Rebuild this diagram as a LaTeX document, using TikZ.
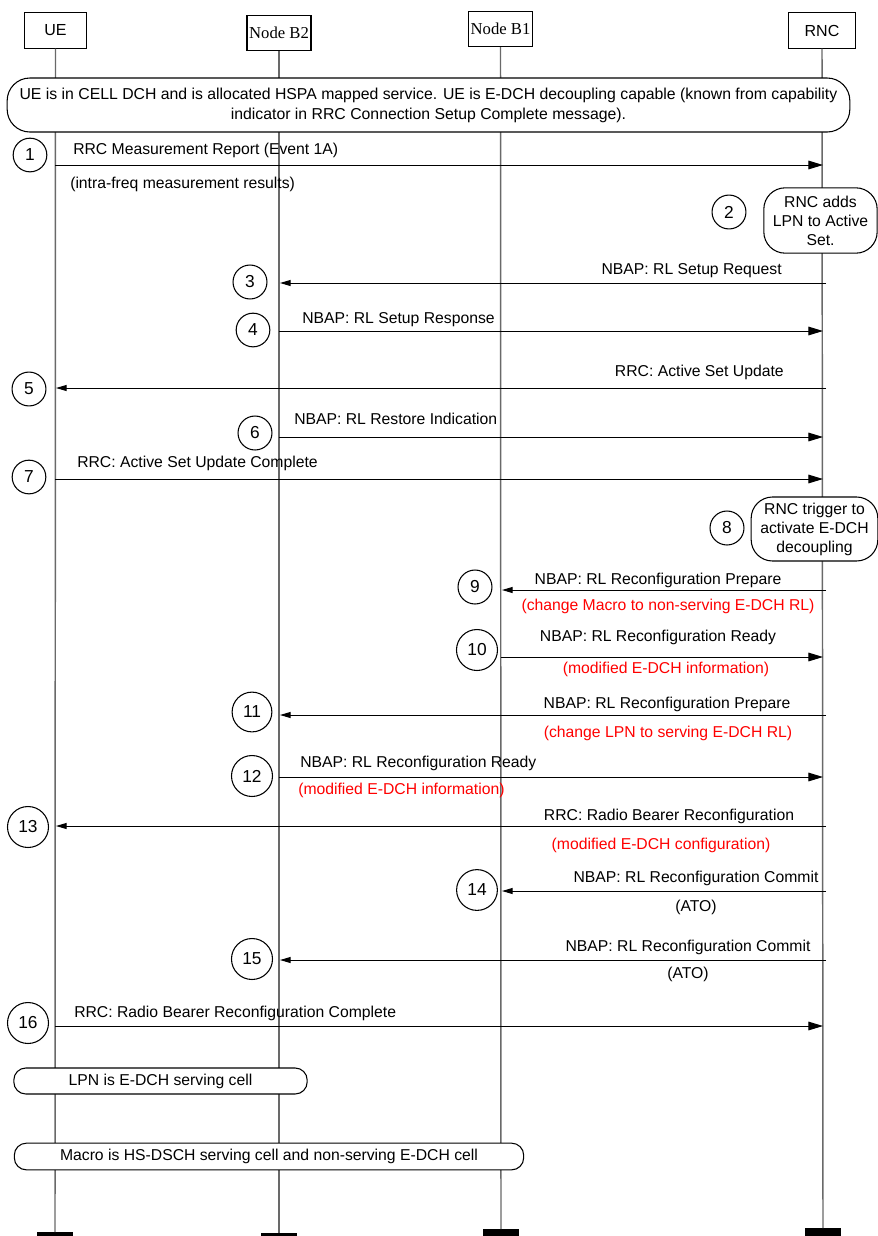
\documentclass[tikz,border=0pt]{standalone}
\usepackage{fontspec}
\setmainfont{Liberation Sans}
\newfontfamily\tnr{Liberation Serif}
\usetikzlibrary{arrows.meta}
\definecolor{lifegray}{RGB}{105,105,105}
\definecolor{msgred}{RGB}{255,0,0}
\tikzset{
  hdr/.style={draw, line width=0.8pt, fill=white, inner sep=0pt, font=\fontsize{12}{14}\selectfont},
  life/.style={draw=lifegray, line width=1.1pt},
  endbar/.style={fill=black, minimum width=27pt, minimum height=8pt, inner sep=0pt, anchor=north},
  msgline/.style={line width=0.75pt},
  toright/.style={msgline, -{Triangle[length=11pt,width=6.5pt]}},
  toleft/.style={msgline, -{Triangle[length=8pt,width=4.5pt]}},
  lbl/.style={font=\fontsize{11.8}{14}\selectfont, inner sep=0pt},
  redlbl/.style={lbl, text=msgred},
  num/.style={circle, draw, line width=0.8pt, inner sep=4.9pt, font=\fontsize{13}{15}\selectfont},
  note/.style={draw, line width=0.8pt, fill=white, align=center, inner sep=0pt,
    font=\fontsize{11.8}{14.25}\selectfont}
}
\begin{document}
\begin{tikzpicture}[x=0.75pt, y=-0.75pt]
\clip (0,0) rectangle (878,1236);
\fill[white] (0,0) rectangle (878,1236);

% header boxes
\node[hdr, minimum width=47pt, minimum height=26.5pt] (ue) at (55.5,30.5) {UE};
\node[hdr, minimum width=48pt, minimum height=26.5pt, font=\tnr\fontsize{12.5}{14}\selectfont] (nb2) at (279,33) {Node B2};
\node[hdr, minimum width=48pt, minimum height=26.5pt, font=\tnr\fontsize{12.5}{14}\selectfont] (nb1) at (500.5,29) {Node B1};
\node[hdr, minimum width=50pt, minimum height=26.5pt] (rnc) at (822,30.5) {RNC};

% end bars
\node[endbar] (ueend) at (55,1232) {};
\node[endbar] (nb2end) at (279,1233) {};
\node[endbar] (nb1end) at (501,1229) {};
\node[endbar] (rncend) at (823,1228) {};

% lifelines
\draw[life] (ue.south) -- (ueend.north);
\draw[life] (nb2.south) -- (nb2end.north);
\draw[life] (nb1.south) -- (nb1end.north);
\draw[life] (rnc.south) -- (rncend.north);

% notes
\node[note, minimum width=632pt, minimum height=40.5pt, rounded corners=17pt, font=\fontsize{11.85}{15}\selectfont] (n0) at (428.5,105)
  {UE is in CELL DCH and is allocated HSPA mapped service. UE is E-DCH decoupling capable (known from capability\\indicator in RRC Connection Setup Complete message).};
\node[note, minimum width=85pt, minimum height=49pt, rounded corners=16pt] (n2) at (820.5,220.5)
  {RNC adds\\LPN to Active\\Set.};
\node[note, minimum width=95pt, minimum height=48pt, rounded corners=16pt] (n8) at (814.5,529)
  {RNC trigger to\\activate E-DCH\\decoupling};
\node[note, minimum width=220pt, minimum height=19.5pt, rounded corners=9pt] (n17) at (160.5,1081)
  {LPN is E-DCH serving cell};
\node[note, minimum width=382pt, minimum height=20pt, rounded corners=9pt] (n18) at (269,1156.5)
  {Macro is HS-DSCH serving cell and non-serving E-DCH cell};

% message end points
\coordinate (a1s) at (55,165);   \coordinate (a1e) at (823,165);
\coordinate (a3s) at (826,283);  \coordinate (a3e) at (280,283);
\coordinate (a4s) at (279,331);  \coordinate (a4e) at (823,331);
\coordinate (a5s) at (826,388);  \coordinate (a5e) at (56,388);
\coordinate (a6s) at (279,437);  \coordinate (a6e) at (823,437);
\coordinate (a7s) at (55,479);   \coordinate (a7e) at (823,479);
\coordinate (a9s) at (826,590);  \coordinate (a9e) at (502,590);
\coordinate (a10s) at (501,657); \coordinate (a10e) at (823,657);
\coordinate (a11s) at (826,715); \coordinate (a11e) at (280,715);
\coordinate (a12s) at (279,777); \coordinate (a12e) at (823,777);
\coordinate (a13s) at (826,826); \coordinate (a13e) at (56,826);
\coordinate (a14s) at (826,891); \coordinate (a14e) at (502,891);
\coordinate (a15s) at (826,960); \coordinate (a15e) at (280,960);
\coordinate (a16s) at (55,1026); \coordinate (a16e) at (823,1026);

\draw[toright] (a1s) -- (a1e);
\draw[toleft] (a3s) -- (a3e);
\draw[toright] (a4s) -- (a4e);
\draw[toleft] (a5s) -- (a5e);
\draw[toright] (a6s) -- (a6e);
\draw[toright] (a7s) -- (a7e);
\draw[toleft] (a9s) -- (a9e);
\draw[toright] (a10s) -- (a10e);
\draw[toleft] (a11s) -- (a11e);
\draw[toright] (a12s) -- (a12e);
\draw[toleft] (a13s) -- (a13e);
\draw[toleft] (a14s) -- (a14e);
\draw[toleft] (a15s) -- (a15e);
\draw[toright] (a16s) -- (a16e);

% step numbers
\node[num] (c1) at (30,155) {1};
\node[num] (c2) at (729,212) {2};
\node[num] (c3) at (250,282) {3};
\node[num] (c4) at (253,330) {4};
\node[num] (c5) at (29,389) {5};
\node[num] (c6) at (255,433) {6};
\node[num] (c7) at (29,477) {7};
\node[num] (c8) at (727,528) {8};
\node[num] (c9) at (475,587) {9};
\node[num] (c10) at (477,650) {10};
\node[num] (c11) at (252,712) {11};
\node[num] (c12) at (252,776) {12};
\node[num] (c13) at (28,827) {13};
\node[num] (c14) at (477,890) {14};
\node[num] (c15) at (252,959) {15};
\node[num] (c16) at (28,1023) {16};

% labels
\node[lbl, anchor=base west] (l1) at (73,154) {RRC Measurement Report (Event 1A)};
\node[lbl, anchor=base west] (l1b) at (70,188) {(intra-freq measurement results)};
\node[lbl, anchor=base east] (l3) at (782,274) {NBAP: RL Setup Request};
\node[lbl, anchor=base west] (l4) at (302,323) {NBAP: RL Setup Response};
\node[lbl, anchor=base east] (l5) at (784,376) {RRC: Active Set Update};
\node[lbl, anchor=base west] (l6) at (294,424) {NBAP: RL Restore Indication};
\node[lbl, anchor=base west] (l7) at (77,467) {RRC: Active Set Update Complete};
\node[lbl, anchor=base] (l9) at (658,584) {NBAP: RL Reconfiguration Prepare};
\node[redlbl, anchor=base] (l9b) at (668,610) {(change Macro to non-serving E-DCH RL)};
\node[lbl, anchor=base] (l10) at (658,641) {NBAP: RL Reconfiguration Ready};
\node[redlbl, anchor=base] (l10b) at (666,673) {(modified E-DCH information)};
\node[lbl, anchor=base] (l11) at (667,708) {NBAP: RL Reconfiguration Prepare};
\node[redlbl, anchor=base] (l11b) at (668,737) {(change LPN to serving E-DCH RL)};
\node[lbl, anchor=base west] (l12) at (300,767) {NBAP: RL Reconfiguration Ready};
\node[redlbl, anchor=base west] (l12b) at (298,794) {(modified E-DCH information)};
\node[lbl, anchor=base] (l13) at (669,820) {RRC: Radio Bearer Reconfiguration};
\node[redlbl, anchor=base] (l13b) at (661,849) {(modified E-DCH configuration)};
\node[lbl, anchor=base] (l14) at (696,882) {NBAP: RL Reconfiguration Commit};
\node[lbl, anchor=base] (l14b) at (696,911) {(ATO)};
\node[lbl, anchor=base] (l15) at (688,951) {NBAP: RL Reconfiguration Commit};
\node[lbl, anchor=base] (l15b) at (688,978) {(ATO)};
\node[lbl, anchor=base west] (l16) at (74,1017) {RRC: Radio Bearer Reconfiguration Complete};
\end{tikzpicture}
\end{document}
